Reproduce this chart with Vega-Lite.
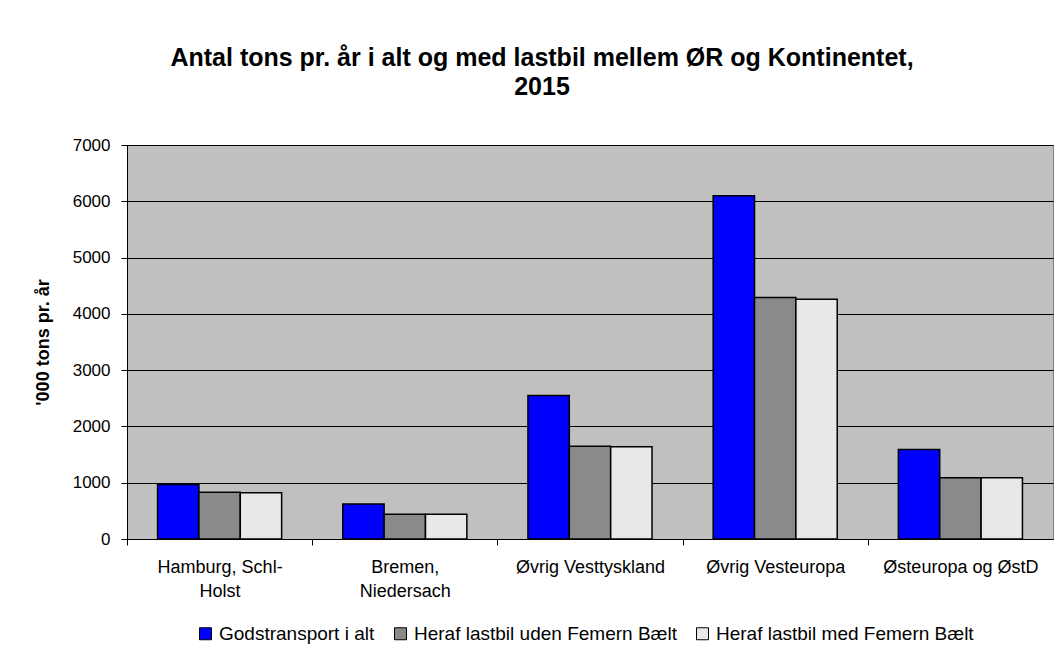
{
  "$schema": "https://vega.github.io/schema/vega-lite/v6.json",
  "width": 926,
  "height": 394,
  "autosize": {"type": "none"},
  "padding": {"left": 127, "top": 145, "right": 5, "bottom": 116},
  "background": "white",
  "title": {
    "text": ["Antal tons pr. år i alt og med lastbil mellem ØR og Kontinentet,", "2015"],
    "fontSize": 25,
    "fontWeight": "bold",
    "lineHeight": 29,
    "anchor": "middle",
    "frame": "group",
    "dx": -48,
    "offset": 36,
    "color": "black"
  },
  "data": {
    "values": [
      {"region": "Hamburg, Schl-Holst", "series": "Godstransport i alt", "value": 970},
      {"region": "Hamburg, Schl-Holst", "series": "Heraf lastbil uden Femern Bælt", "value": 830},
      {"region": "Hamburg, Schl-Holst", "series": "Heraf lastbil med Femern Bælt", "value": 820},
      {"region": "Bremen, Niedersach", "series": "Godstransport i alt", "value": 620},
      {"region": "Bremen, Niedersach", "series": "Heraf lastbil uden Femern Bælt", "value": 440},
      {"region": "Bremen, Niedersach", "series": "Heraf lastbil med Femern Bælt", "value": 440},
      {"region": "Øvrig Vesttyskland", "series": "Godstransport i alt", "value": 2550},
      {"region": "Øvrig Vesttyskland", "series": "Heraf lastbil uden Femern Bælt", "value": 1650},
      {"region": "Øvrig Vesttyskland", "series": "Heraf lastbil med Femern Bælt", "value": 1640},
      {"region": "Øvrig Vesteuropa", "series": "Godstransport i alt", "value": 6100},
      {"region": "Øvrig Vesteuropa", "series": "Heraf lastbil uden Femern Bælt", "value": 4290},
      {"region": "Øvrig Vesteuropa", "series": "Heraf lastbil med Femern Bælt", "value": 4260},
      {"region": "Østeuropa og ØstD", "series": "Godstransport i alt", "value": 1590},
      {"region": "Østeuropa og ØstD", "series": "Heraf lastbil uden Femern Bælt", "value": 1090},
      {"region": "Østeuropa og ØstD", "series": "Heraf lastbil med Femern Bælt", "value": 1090}
    ]
  },
  "mark": {"type": "bar", "stroke": "black", "strokeWidth": 1.5},
  "encoding": {
    "x": {
      "field": "region",
      "type": "nominal",
      "sort": ["Hamburg, Schl-Holst", "Bremen, Niedersach", "Øvrig Vesttyskland", "Øvrig Vesteuropa", "Østeuropa og ØstD"],
      "scale": {"paddingInner": 0.33, "paddingOuter": 0.165},
      "axis": {
        "title": null,
        "labelAngle": 0,
        "labelFontSize": 18,
        "labelColor": "black",
        "labelPadding": 13,
        "labelLineHeight": 24,
        "labelLimit": 0,
        "labelExpr": "datum.label == 'Hamburg, Schl-Holst' ? ['Hamburg, Schl-', 'Holst'] : datum.label == 'Bremen, Niedersach' ? ['Bremen,', 'Niedersach'] : datum.label",
        "domainColor": "black",
        "tickColor": "black",
        "tickSize": 6,
        "tickOffset": -92.6,
        "labelOffset": 92.6,
        "grid": false
      }
    },
    "xOffset": {
      "field": "series",
      "sort": ["Godstransport i alt", "Heraf lastbil uden Femern Bælt", "Heraf lastbil med Femern Bælt"]
    },
    "y": {
      "field": "value",
      "type": "quantitative",
      "scale": {"domain": [0, 7000]},
      "axis": {
        "values": [0, 1000, 2000, 3000, 4000, 5000, 6000, 7000],
        "format": "d",
        "title": "'000 tons pr. år",
        "titleFontSize": 18,
        "titleFontWeight": "bold",
        "titleColor": "black",
        "titlePadding": 20,
        "labelFontSize": 17,
        "labelColor": "black",
        "labelPadding": 11,
        "domainColor": "black",
        "tickColor": "black",
        "tickSize": 6,
        "grid": true,
        "gridColor": "black",
        "gridWidth": 1
      }
    },
    "color": {
      "field": "series",
      "type": "nominal",
      "scale": {
        "domain": ["Godstransport i alt", "Heraf lastbil uden Femern Bælt", "Heraf lastbil med Femern Bælt"],
        "range": ["#0000ff", "#8a8a8a", "#e8e8e8"]
      },
      "legend": {
        "title": null,
        "orient": "none",
        "legendX": 69,
        "legendY": 479,
        "direction": "horizontal",
        "symbolType": "square",
        "symbolSize": 144,
        "symbolStrokeColor": "black",
        "symbolStrokeWidth": 1,
        "symbolOpacity": 1,
        "labelFontSize": 19,
        "labelColor": "black",
        "labelLimit": 0,
        "labelOffset": 4,
        "columnPadding": 16
      }
    }
  },
  "config": {
    "font": "Liberation Sans",
    "view": {"fill": "#c0c0c0", "stroke": "#808080", "strokeWidth": 1}
  }
}
